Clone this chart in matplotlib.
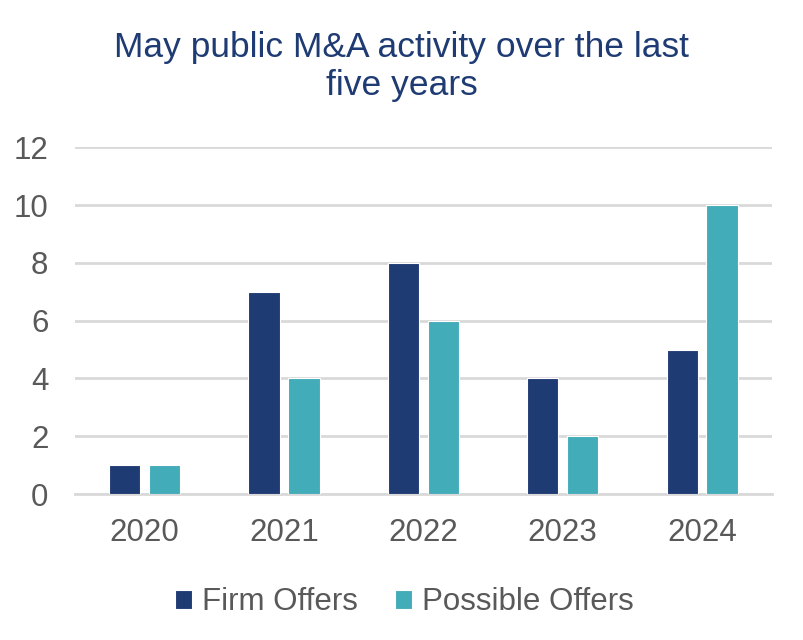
import matplotlib
matplotlib.use("Agg")
import matplotlib.pyplot as plt
import numpy as np

years = ["2020", "2021", "2022", "2023", "2024"]
firm_offers = [1, 7, 8, 4, 5]
possible_offers = [1, 4, 6, 2, 10]
yticks = [0, 2, 4, 6, 8, 10, 12]

navy = "#1F3B73"
teal = "#42ACB9"
gray_text = "#595959"
grid_c = "#D9D9D9"

plt.rcParams['font.family'] = ['Liberation Sans', 'DejaVu Sans']

fig = plt.figure(figsize=(8.04, 6.4), dpi=100)
ax = fig.add_axes([0.093, 0.228, 0.867, 0.542])

x = np.arange(len(years))
w = 0.225
off = 0.143
ax.bar(x - off, firm_offers, w, color=navy, edgecolor="white", linewidth=0.8, label="Firm Offers", zorder=3)
ax.bar(x + off, possible_offers, w, color=teal, edgecolor="white", linewidth=0.8, label="Possible Offers", zorder=3)

ax.set_xlim(-0.5, len(years) - 0.5)
ax.set_ylim(0, 12)
ax.set_yticks(yticks)
ax.set_xticks(x)
ax.set_xticklabels(years)
ax.yaxis.grid(True, color=grid_c, linewidth=2, zorder=0)
ax.set_axisbelow(True)
for s in ["top", "right", "left"]:
    ax.spines[s].set_visible(False)
ax.spines["bottom"].set_color(grid_c)
ax.spines["bottom"].set_linewidth(2)
ax.tick_params(axis="both", length=0, labelsize=22.5, colors=gray_text)
ax.tick_params(axis="x", pad=17)
ax.tick_params(axis="y", pad=19)

fig.text(0.5, 0.896, "May public M&A activity over the last\nfive years", ha="center", va="center",
         fontsize=25.5, color=navy, linespacing=1.22)

leg = fig.legend(loc="center", bbox_to_anchor=(0.503, 0.059), ncol=2, frameon=False,
                 fontsize=22.5, handlelength=0.55, handleheight=0.55, handletextpad=0.3,
                 columnspacing=1.2, labelcolor=gray_text)

fig.savefig("out.png", dpi=100, facecolor="white")
